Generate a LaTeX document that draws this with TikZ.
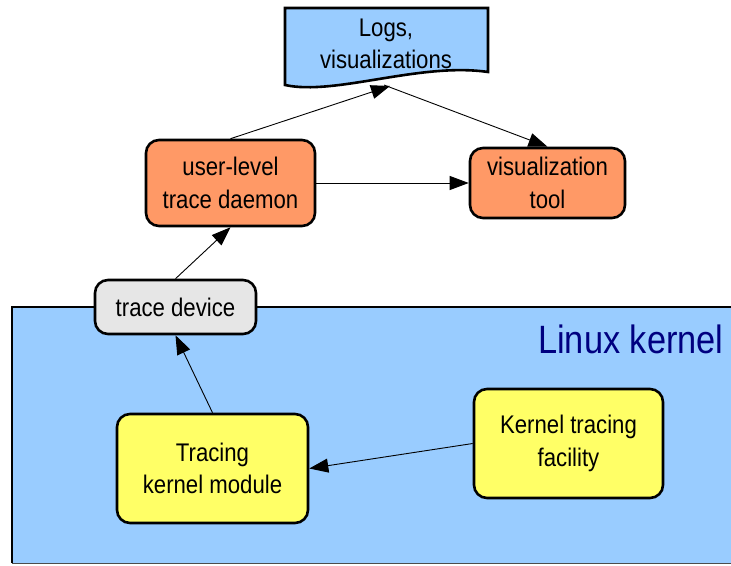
\documentclass[tikz,border=0pt]{standalone}
\usepackage{fontspec}
\setmainfont{Liberation Sans}[FakeStretch=0.87]
\usetikzlibrary{arrows.meta}
\usetikzlibrary{positioning}

\definecolor{kernelblue}{HTML}{99CCFF}
\definecolor{daemonorange}{HTML}{FF9966}
\definecolor{moduleyellow}{HTML}{FFFF66}
\definecolor{devicegray}{HTML}{E6E6E6}
\definecolor{kernelnavy}{HTML}{000080}

\tikzset{
  box/.style={draw, line width=2.6pt, rounded corners=13pt, align=center,
    inner sep=0pt, font=\fontsize{25.5}{32.5}\selectfont},
  link/.style={line width=0.9pt, -{Triangle[length=19pt,width=14pt]}}
}

\begin{document}
\begin{tikzpicture}[x=1pt,y=-1pt]
\clip (0,0) rectangle (731,565);
\useasboundingbox (0,0) rectangle (731,565);
% Draw the kernel area
\filldraw[fill=kernelblue, line width=2.6pt] (12,563) -- (12,307) -- (745,307) -- (745,563);
\draw[line width=1pt, black!70] (12,563) -- (745,563);
\node[anchor=base east, text=kernelnavy, font=\fontsize{39.5}{39.5}\selectfont] at (727,353) (KernelLabel) {Linux kernel};
% Draw the log document
\filldraw[fill=kernelblue, line width=2.6pt] (285,85) -- (285,8) -- (488,8) -- (488,72)
  .. controls (420,62) and (335,96) .. (285,85) -- cycle;
\node[align=center, font=\fontsize{25.5}{32.5}\selectfont] at (386,44) (Logs) {Logs,\\visualizations};
\coordinate (LogsIn) at (390,86);
\coordinate (LogsOut) at (384,85);
% Give names to the various parts
\node[box, fill=daemonorange, minimum width=169pt, minimum height=86pt] at (230.5,183) (Daemon) {user-level\\trace daemon};
\node[box, fill=daemonorange, minimum width=155pt, minimum height=70pt] at (547.5,183) (VisTool) {visualization\\tool};
\node[box, fill=devicegray, minimum width=161pt, minimum height=54pt] at (175.5,307) (TraceDev) {trace device};
\node[box, fill=moduleyellow, minimum width=191pt, minimum height=109pt] at (212.5,468.5) (Module) {Tracing\\kernel module};
\node[box, fill=moduleyellow, minimum width=189pt, minimum height=109pt] at (568.5,443.5) (Facility) {Kernel tracing\\facility};
% Connections
\draw[link] (Daemon.north) -- (LogsIn);
\draw[link] (LogsOut) -- (VisTool.north);
\draw[link] (Daemon.east) -- (VisTool.west);
\draw[link] (TraceDev.north) -- (Daemon.south);
\draw[link] (Module.north) -- (TraceDev.south);
\draw[link] (Facility.west) -- (Module.east);
\end{tikzpicture}
\end{document}
